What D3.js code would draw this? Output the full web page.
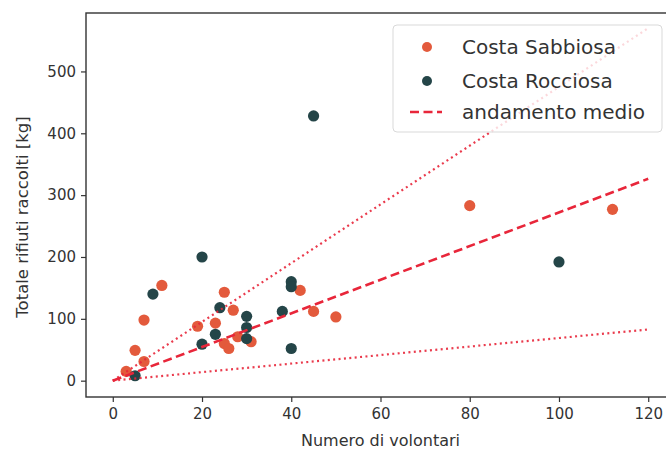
<!DOCTYPE html>
<html>
<head>
<meta charset="utf-8">
<script src="https://cdn.jsdelivr.net/npm/d3@7"></script>
<style>
  html, body { margin: 0; padding: 0; background: #fff; }
  svg { display: block; }
  text { font-family: "DejaVu Sans", sans-serif; }
</style>
</head>
<body>
<svg id="chart" width="666" height="453"></svg>
<script>
// Costa Sabbiosa: volunteers and kg of litter collected
const volontariSabbiosa = [3, 5, 7, 7, 11, 19, 23, 25, 27, 25, 26, 28, 31, 42, 45, 50, 80, 112];
const rifiutiSabbiosa   = [15, 49, 31, 98, 154, 88, 93, 143, 114, 60, 52, 71, 63, 146, 112, 103, 283, 277];

// Costa Rocciosa: volunteers and kg of litter collected
const volontariRocciosa = [5, 9, 20, 20, 23, 24, 30, 30, 30, 38, 40, 40, 40, 45, 100];
const rifiutiRocciosa   = [8, 140, 200, 59, 75, 118, 104, 86, 68, 112, 160, 152, 52, 428, 192];

// kg per volunteer: mean trend and mean ± spread
const pendenzaMedia = 2.72;
const pendenzeBanda = [4.75, 0.69];
const trendX = [0, 120];

const xTicks = [0, 20, 40, 60, 80, 100, 120];
const yTicks = [0, 100, 200, 300, 400, 500];

const legendLabels = ["Costa Sabbiosa", "Costa Rocciosa", "andamento medio"];

const colSabbiosa = "#e35a3c";
const colRocciosa = "#244548";
const colTrend = "#e8263a";

const svg = d3.select("#chart");
const plotLeft = 86, plotRight = 675, plotTop = 13, plotBottom = 397;

const x = d3.scaleLinear().domain([-6, 126]).range([plotLeft, plotRight]);
const y = d3.scaleLinear().domain([-26.4, 594.5]).range([plotBottom, plotTop]);

const plot = svg.append("g");

// scatter points
const sab = d3.zip(volontariSabbiosa, rifiutiSabbiosa);
const roc = d3.zip(volontariRocciosa, rifiutiRocciosa);

plot.selectAll("circle.sab").data(sab).join("circle")
  .attr("class", "sab")
  .attr("cx", d => x(d[0])).attr("cy", d => y(d[1]))
  .attr("r", 5.6).attr("fill", colSabbiosa);

plot.selectAll("circle.roc").data(roc).join("circle")
  .attr("class", "roc")
  .attr("cx", d => x(d[0])).attr("cy", d => y(d[1]))
  .attr("r", 5.6).attr("fill", colRocciosa);

// trend lines
const line = d3.line().x(d => x(d[0])).y(d => y(d[1]));
const trendPts = s => trendX.map(v => [v, v * s]);

pendenzeBanda.forEach(s => {
  plot.append("path").attr("d", line(trendPts(s)))
    .attr("fill", "none").attr("stroke", colTrend)
    .attr("stroke-width", 2.2).attr("stroke-dasharray", "2,3.4")
    .attr("opacity", 0.9);
});

plot.append("path").attr("d", line(trendPts(pendenzaMedia)))
  .attr("fill", "none").attr("stroke", colTrend)
  .attr("stroke-width", 2.6).attr("stroke-dasharray", "9,4.5");

// axes
const axisCol = "#333";
const xAxis = svg.append("g").attr("transform", `translate(0,${plotBottom})`)
  .call(d3.axisBottom(x).tickValues(xTicks).tickSize(5).tickPadding(6));
const yAxis = svg.append("g").attr("transform", `translate(${plotLeft},0)`)
  .call(d3.axisLeft(y).tickValues(yTicks).tickSize(5).tickPadding(5));

[xAxis, yAxis].forEach(a => {
  a.select(".domain").remove();
  a.selectAll(".tick line").attr("stroke", axisCol).attr("stroke-width", 1.2);
  a.selectAll(".tick text").attr("fill", axisCol)
    .style("font-family", "DejaVu Sans, sans-serif").style("font-size", "15px");
});

// frame
svg.append("rect")
  .attr("x", plotLeft).attr("y", plotTop)
  .attr("width", plotRight - plotLeft).attr("height", plotBottom - plotTop)
  .attr("fill", "none").attr("stroke", axisCol).attr("stroke-width", 1.4);

// axis titles
svg.append("text")
  .attr("x", x(60)).attr("y", 446)
  .attr("text-anchor", "middle").attr("fill", axisCol)
  .style("font-size", "16px")
  .text("Numero di volontari");

svg.append("text")
  .attr("transform", `translate(28,${(plotTop + plotBottom) / 2 + 12}) rotate(-90)`)
  .attr("text-anchor", "middle").attr("fill", axisCol)
  .style("font-size", "16.5px")
  .text("Totale rifiuti raccolti [kg]");

// legend
const lg = svg.append("g");
lg.append("rect")
  .attr("x", 393).attr("y", 25).attr("width", 269).attr("height", 107)
  .attr("rx", 4).attr("fill", "#fff").attr("fill-opacity", 0.8)
  .attr("stroke", "#d9d9d9").attr("stroke-width", 1);

const rowY = [47, 81, 112];
lg.append("circle").attr("cx", 427).attr("cy", rowY[0]).attr("r", 5).attr("fill", colSabbiosa);
lg.append("circle").attr("cx", 427).attr("cy", rowY[1]).attr("r", 5).attr("fill", colRocciosa);
lg.append("line").attr("x1", 410).attr("x2", 442).attr("y1", rowY[2]).attr("y2", rowY[2])
  .attr("stroke", colTrend).attr("stroke-width", 2.6).attr("stroke-dasharray", "9,4.5");

lg.selectAll("text.lab").data(legendLabels).join("text")
  .attr("class", "lab")
  .attr("x", 462).attr("y", (d, i) => rowY[i])
  .attr("dy", "0.36em").attr("fill", "#333")
  .style("font-size", "20px")
  .text(d => d);
</script>
</body>
</html>
